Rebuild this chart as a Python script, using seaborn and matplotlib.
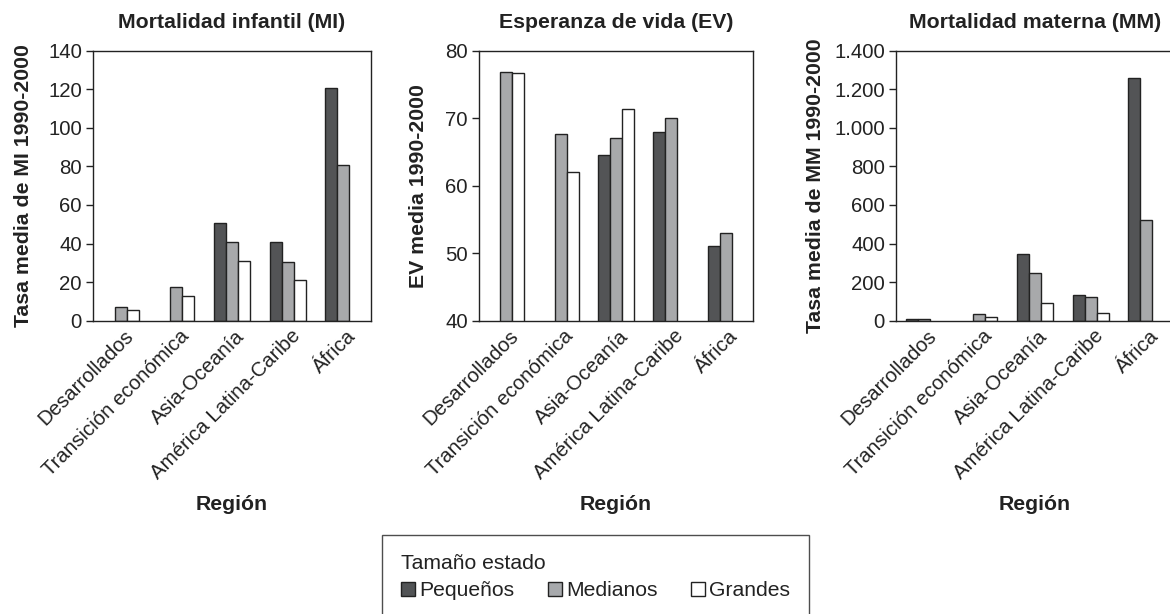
import numpy as np
import pandas as pd
import matplotlib
matplotlib.use("Agg")
import matplotlib.pyplot as plt
from matplotlib.patches import Patch
import seaborn as sns

regions = ["Desarrollados", "Transición económica", "Asia-Oceanía",
           "América Latina-Caribe", "África"]
sizes = ["Pequeños", "Medianos", "Grandes"]

mi_pequenos = [np.nan, np.nan, 50.6, 40.8, 120.6]
mi_medianos = [6.9, 17.3, 40.8, 30.6, 80.7]
mi_grandes = [5.5, 12.8, 31.1, 21.1, np.nan]

ev_pequenos = [np.nan, np.nan, 64.6, 67.9, 51.0]
ev_medianos = [76.9, 67.7, 67.1, 70.0, 53.0]
ev_grandes = [76.7, 62.0, 71.3, np.nan, np.nan]

mm_pequenos = [7, np.nan, 347, 131, 1260]
mm_medianos = [10, 36, 245, 123, 520]
mm_grandes = [np.nan, 17, 93, 38, np.nan]

titles = ["Mortalidad infantil (MI)", "Esperanza de vida (EV)", "Mortalidad materna (MM)"]
ylabels = ["Tasa media de MI 1990-2000", "EV media 1990-2000", "Tasa media de MM 1990-2000"]
mi_ticks = [0, 20, 40, 60, 80, 100, 120, 140]
ev_ticks = [40, 50, 60, 70, 80]
mm_ticks = [0, 200, 400, 600, 800, 1000, 1200, 1400]
mm_ticklabels = ["0", "200", "400", "600", "800", "1.000", "1.200", "1.400"]

colors = ["#525456", "#a7a9ac", "#ffffff"]

sns.set_style("white")
plt.rcParams["font.family"] = ["Liberation Sans", "DejaVu Sans"]
plt.rcParams["text.color"] = "#222222"
plt.rcParams["axes.labelcolor"] = "#222222"
plt.rcParams["xtick.color"] = "#222222"
plt.rcParams["ytick.color"] = "#222222"

TICK_FS = 14.7
LABEL_FS = 15.3
LEG_FS = 15.2


def make_df(p, m, g):
    rows = []
    for vals, s in zip([p, m, g], sizes):
        for r, v in zip(regions, vals):
            rows.append({"Región": r, "Tamaño": s, "valor": v})
    return pd.DataFrame(rows)


data = [make_df(mi_pequenos, mi_medianos, mi_grandes),
        make_df(ev_pequenos, ev_medianos, ev_grandes),
        make_df(mm_pequenos, mm_medianos, mm_grandes)]

fig = plt.figure(figsize=(11.7, 6.14), dpi=100)
W, H = 1170, 614
boxes = [(93, 371), (479, 753), (896, 1174)]
top_px, bot_px = 50.7, 320.7
ylabel_x = [-0.216, -0.186, -0.255]
ticks_list = [mi_ticks, ev_ticks, mm_ticks]
ticklabels_list = [[str(t) for t in mi_ticks], [str(t) for t in ev_ticks], mm_ticklabels]

for i in range(3):
    l, r = boxes[i]
    ax = fig.add_axes([l / W, 1 - bot_px / H, (r - l) / W, (bot_px - top_px) / H])
    sns.barplot(data=data[i], x="Región", y="valor", hue="Tamaño",
                order=regions, hue_order=sizes, palette=colors,
                edgecolor="#222222", linewidth=1.0, width=0.65,
                errorbar=None, legend=False, ax=ax)
    ax.set_xlim(-0.5, 4.5)
    ax.set_ylim(ticks_list[i][0], ticks_list[i][-1])
    ax.set_yticks(ticks_list[i])
    ax.set_yticklabels(ticklabels_list[i], fontsize=TICK_FS)
    # label anchors sit slightly right of the category centre (Excel style)
    ax.set_xticks(np.arange(5) + 0.17)
    ax.set_xticklabels(regions, rotation=45, ha="right", va="center",
                       rotation_mode="anchor", fontsize=TICK_FS)
    ax.set_xticks(np.arange(-0.5, 5.0, 1.0), minor=True)
    ax.tick_params(axis="x", which="major", length=0, pad=9)
    ax.tick_params(axis="x", which="minor", length=5, width=1, direction="out")
    ax.tick_params(axis="y", length=5, width=1, direction="out", pad=3, left=True)
    for s in ax.spines.values():
        s.set_color("#222222")
        s.set_linewidth(1.0)
    ax.set_title(titles[i], fontsize=LABEL_FS, fontweight="bold", pad=16)
    ax.set_xlabel("Región", fontsize=LABEL_FS, fontweight="bold")
    ax.xaxis.set_label_coords(0.5, -0.645)
    ax.set_ylabel(ylabels[i], fontsize=LABEL_FS, fontweight="bold")
    ax.yaxis.set_label_coords(ylabel_x[i], 0.5)

handles = [Patch(facecolor=c, edgecolor="#222222", linewidth=1.0) for c in colors]
leg = fig.legend(handles, sizes, title="Tamaño estado", ncol=3,
                 loc="upper left", bbox_to_anchor=(382 / W, 1 - 535 / H),
                 borderaxespad=0.0,
                 fontsize=LEG_FS, title_fontsize=LEG_FS, frameon=True,
                 fancybox=False, edgecolor="#222222", handlelength=0.65,
                 handleheight=0.65, handletextpad=0.2, columnspacing=1.6,
                 borderpad=0.9, labelspacing=0.4, alignment="left")
leg.get_frame().set_linewidth(1.0)

fig.savefig("out.png", dpi=100, facecolor="white")
